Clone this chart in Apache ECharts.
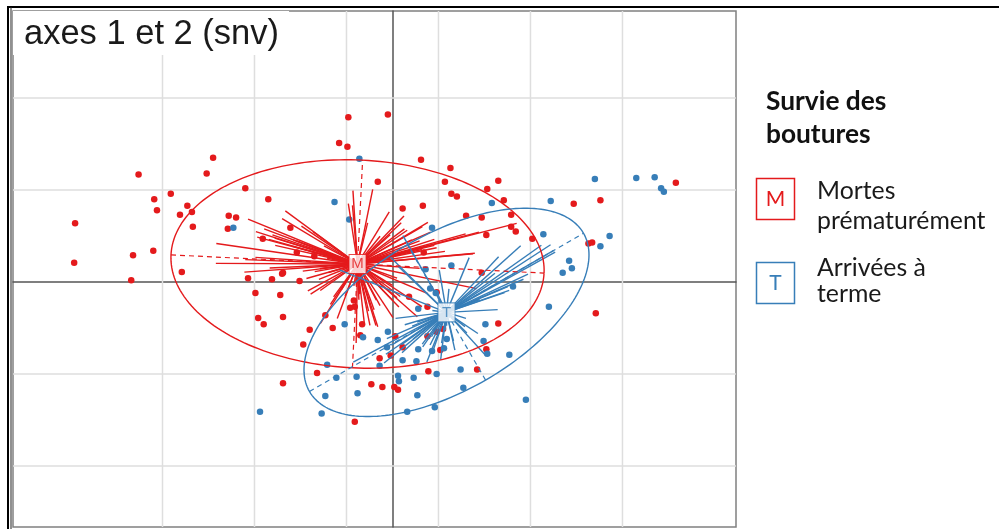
<!DOCTYPE html>
<html><head><meta charset="utf-8">
<script src="https://cdn.jsdelivr.net/npm/echarts@6/dist/echarts.min.js"></script>
<style>html,body{margin:0;padding:0;background:#fff}#c{width:999px;height:529px}</style>
</head><body><div id="c"></div>
<script>
// ---- data (axis 1 = x, axis 2 = y) ----
const classNames = ['Mortes prématurément', 'Arrivées à terme'];
const classLabels = ['M', 'T'];
const legendTitle = ['Survie des', 'boutures'];
const chartTitle = 'axes 1 et 2 (snv)';

const pointsM = [
 [-3.45,0.64],[-3.46,0.21],[-2.76,1.17],[-2.82,0.29],[-2.84,0.02],[-2.60,0.34],[-2.59,0.90],[-2.56,0.78],
 [-2.41,0.96],[-2.31,0.73],[-2.23,0.83],[-2.18,0.76],[-2.17,0.60],[-2.02,1.18],[-1.95,1.35],[-2.29,0.11],
 [-1.60,1.02],[-1.35,0.90],[-1.78,0.72],[-1.70,0.70],[-1.79,0.58],[-1.41,0.47],[-1.57,0.04],[-1.31,0.03],
 [-1.20,0.09],[-1.49,-0.12],[-1.22,-0.14],[-1.11,0.59],[-0.48,1.79],[-0.05,1.82],[-0.58,1.51],[-0.49,1.47],
 [-0.16,1.09],[0.11,0.80],[0.33,0.83],[0.31,1.33],[0.63,1.24],[0.57,1.09],[0.64,0.96],[0.70,0.93],
 [1.03,1.01],[1.15,1.10],[1.21,0.89],[0.97,0.70],[0.80,0.72],[1.29,0.73],[1.02,0.51],[1.29,0.60],
 [1.34,0.55],[1.52,0.47],[1.97,0.85],[2.26,0.89],[2.13,0.42],[2.17,0.43],[3.08,1.08],[-1.04,0.32],
 [-0.85,0.28],[-1.19,0.10],[-1.01,0.01],[-1.46,-0.39],[-1.40,-0.46],[-1.19,-0.38],[-0.90,-0.52],[-0.65,-0.50],
 [-0.73,-0.36],[-0.97,-0.68],[-0.82,-0.99],[-1.19,-1.10],[-0.41,-1.52],[-0.42,-0.20],[-0.41,-0.27],[-0.46,-0.28],
 [-0.33,-0.46],[-0.35,-0.58],[-0.14,-0.83],[-0.02,-0.80],[-0.23,-1.11],[-0.11,-1.14],[0.02,-1.14],[0.06,-1.17],
 [0.03,-0.59],[0.18,-0.16],[0.34,0.32],[0.97,0.10],[0.38,-0.27],[0.48,-0.11],[0.55,-0.51],[0.48,-0.54],
 [0.38,-0.59],[0.52,-0.74],[0.11,-0.71],[0.39,-0.97],[0.92,-0.95],[1.15,-0.45],[1.02,-0.73],[2.21,-0.34]
];
const pointsT = [
 [-1.73,0.59],[-0.36,1.34],[-0.63,0.87],[-0.47,0.68],[0.43,0.59],[1.08,0.86],[1.72,0.88],[2.20,1.12],
 [2.65,1.13],[2.85,1.14],[2.92,1.02],[2.95,0.98],[1.64,0.52],[2.26,0.39],[2.36,0.50],[1.92,0.23],
 [1.95,0.15],[1.85,0.10],[1.31,-0.05],[0.64,0.18],[0.36,0.14],[1.70,-0.27],[1.01,-0.46],[0.41,-0.07],
 [0.28,-0.29],[0.47,-0.12],[0.99,-0.64],[1.03,-0.78],[1.27,-0.79],[0.74,-0.95],[0.48,-1.00],[0.77,-1.15],
 [0.27,-1.23],[1.45,-1.28],[0.46,-1.36],[0.16,-1.41],[0.23,-1.04],[0.06,-1.02],[0.07,-1.08],[0.11,-0.85],
 [0.26,-0.86],[0.28,-0.73],[0.43,-0.75],[0.56,-0.72],[0.59,-0.62],[-0.05,-0.54],[-0.06,-0.71],[-0.52,-0.46],
 [-0.32,-0.60],[-0.16,-0.63],[-0.14,-0.91],[-0.71,-0.90],[-0.61,-1.04],[-0.39,-1.03],[-0.38,-1.21],[-0.73,-1.24],
 [-1.44,-1.41],[-0.77,-1.43]
];
const centroidM = [-0.38, 0.196];
const centroidT = [0.587, -0.33];
// ellipse: centre x, centre y, semi-axis 1, semi-axis 2, angle (deg)
const ellipseM = [-0.38, 0.196, 2.03, 1.13, -2.8];
const ellipseT = [0.587, -0.33, 1.72, 0.85, 30];
const cstar = 0.5;
const gridX = [-2.5, -1.5, -0.5, 0.5, 1.5, 2.5];
const gridY = [-2, -1, 1, 2];
const xRange = [-4.125, 3.734];
const yRange = [-2.663, 2.946];

// ---- styles ----
const RED = '#E41A1C', BLUE = '#377EB8';

function gridSeries(vals, vertical) {
  return {
    type: 'custom', coordinateSystem: 'cartesian2d', silent: true, z: 1,
    data: vals.map(v => vertical ? [v, 0] : [0, v]),
    encode: { x: 0, y: 1 },
    renderItem(params, api) {
      const v = api.value(vertical ? 0 : 1);
      const a = vertical ? api.coord([v, yRange[0]]) : api.coord([xRange[0], v]);
      const b = vertical ? api.coord([v, yRange[1]]) : api.coord([xRange[1], v]);
      return { type: 'line', shape: { x1: a[0], y1: a[1], x2: b[0], y2: b[1] },
        style: { stroke: '#dedede', lineWidth: 1.5 } };
    }
  };
}
function starSeries(pts, c, color) {
  return {
    type: 'custom', coordinateSystem: 'cartesian2d', silent: true, z: 3,
    data: pts, encode: { x: 0, y: 1 },
    renderItem(params, api) {
      const px = api.value(0), py = api.value(1);
      const a = api.coord(c);
      const b = api.coord([c[0] + cstar * (px - c[0]), c[1] + cstar * (py - c[1])]);
      return { type: 'line', shape: { x1: a[0], y1: a[1], x2: b[0], y2: b[1] },
        style: { stroke: color, lineWidth: 1.4 } };
    }
  };
}
function ellipseSeries(e, color) {
  return {
    type: 'custom', coordinateSystem: 'cartesian2d', silent: true, z: 4,
    data: [e], encode: { x: 0, y: 1 },
    renderItem(params, api) {
      const cx = api.value(0), cy = api.value(1), a = api.value(2), b = api.value(3);
      const th = api.value(4) * Math.PI / 180, ct = Math.cos(th), st = Math.sin(th);
      const pts = [];
      for (let i = 0; i <= 200; i++) {
        const t = i / 200 * 2 * Math.PI;
        pts.push(api.coord([cx + a * Math.cos(t) * ct - b * Math.sin(t) * st,
                            cy + a * Math.cos(t) * st + b * Math.sin(t) * ct]));
      }
      const p1 = api.coord([cx - a * ct, cy - a * st]), p2 = api.coord([cx + a * ct, cy + a * st]);
      const q1 = api.coord([cx + b * st, cy - b * ct]), q2 = api.coord([cx - b * st, cy + b * ct]);
      const dash = { stroke: color, lineWidth: 1.2, lineDash: [5, 4], fill: 'none' };
      return { type: 'group', children: [
        { type: 'polyline', shape: { points: pts }, style: { stroke: color, lineWidth: 1.4, fill: 'none' } },
        { type: 'line', shape: { x1: p1[0], y1: p1[1], x2: p2[0], y2: p2[1] }, style: dash },
        { type: 'line', shape: { x1: q1[0], y1: q1[1], x2: q2[0], y2: q2[1] }, style: dash }
      ] };
    }
  };
}
function labelSeries(c, txt, color) {
  return {
    type: 'scatter', data: [c], symbol: 'rect', symbolSize: [17, 19], z: 10, silent: true,
    itemStyle: { color: '#fff', borderColor: color, borderWidth: 1 },
    label: { show: true, position: 'inside', formatter: txt, color: color,
      fontFamily: 'Liberation Sans', fontSize: 15 }
  };
}

const chart = echarts.init(document.getElementById('c'), null, { renderer: 'canvas' });
const legendFont = 'Lato';
chart.setOption({
  animation: false,
  backgroundColor: '#fff',
  title: {
    text: chartTitle, left: 13, top: 11, padding: [6, 10, 3, 11], backgroundColor: '#fff', z: 20,
    textStyle: { fontFamily: 'Liberation Sans', fontSize: 34.5, fontWeight: 'normal', color: '#1a1a1a', lineHeight: 35 }
  },
  grid: { left: 13, top: 11, width: 723, height: 516, show: true, borderColor: '#808080', borderWidth: 1.5, backgroundColor: '#fff' },
  xAxis: { type: 'value', min: xRange[0], max: xRange[1],
    axisLine: { show: true, onZero: true, lineStyle: { color: '#555', width: 1.5 } },
    axisTick: { show: false }, axisLabel: { show: false }, splitLine: { show: false } },
  yAxis: { type: 'value', min: yRange[0], max: yRange[1],
    axisLine: { show: true, onZero: true, lineStyle: { color: '#555', width: 1.5 } },
    axisTick: { show: false }, axisLabel: { show: false }, splitLine: { show: false } },
  series: [
    gridSeries(gridX, true),
    gridSeries(gridY, false),
    { type: 'scatter', name: classNames[0], data: pointsM, symbolSize: 6.5, z: 2, silent: true, itemStyle: { color: RED, opacity: 1 } },
    { type: 'scatter', name: classNames[1], data: pointsT, symbolSize: 6.5, z: 2, silent: true, itemStyle: { color: BLUE, opacity: 1 } },
    starSeries(pointsM, centroidM, RED),
    ellipseSeries(ellipseM, RED),
    starSeries(pointsT, centroidT, BLUE),
    ellipseSeries(ellipseT, BLUE),
    labelSeries(centroidM, classLabels[0], RED),
    labelSeries(centroidT, classLabels[1], BLUE)
  ],
  graphic: [
    { type: 'rect', silent: true, z: 100, shape: { x: 8, y: 7, width: 1100, height: 600 }, style: { fill: 'none', stroke: '#000', lineWidth: 2 } },
    { type: 'line', silent: true, z: 100, shape: { x1: 11, y1: 7, x2: 11, y2: 529 }, style: { stroke: '#222', lineWidth: 1 } },
    { type: 'text', z: 100, x: 766, y: 102, style: { text: legendTitle[0], font: 'bold 26.3px ' + legendFont, fill: '#111', verticalAlign: 'middle' } },
    { type: 'text', z: 100, x: 766, y: 135, style: { text: legendTitle[1], font: 'bold 26.3px ' + legendFont, fill: '#111', verticalAlign: 'middle' } },
    { type: 'rect', z: 100, shape: { x: 756.5, y: 178.5, width: 38, height: 41 }, style: { fill: '#fff', stroke: RED, lineWidth: 1.5 } },
    { type: 'text', z: 101, x: 775.5, y: 199, style: { text: classLabels[0], font: '21px ' + legendFont, fill: RED, align: 'center', verticalAlign: 'middle' } },
    { type: 'text', z: 100, x: 817, y: 191, style: { text: 'Mortes', font: '24.8px ' + legendFont, fill: '#1a1a1a', verticalAlign: 'middle' } },
    { type: 'text', z: 100, x: 817, y: 221, style: { text: 'prématurément', font: '24.8px ' + legendFont, fill: '#1a1a1a', verticalAlign: 'middle' } },
    { type: 'rect', z: 100, shape: { x: 756.5, y: 262.5, width: 38, height: 41 }, style: { fill: '#fff', stroke: BLUE, lineWidth: 1.5 } },
    { type: 'text', z: 101, x: 775.5, y: 283, style: { text: classLabels[1], font: '21px ' + legendFont, fill: BLUE, align: 'center', verticalAlign: 'middle' } },
    { type: 'text', z: 100, x: 817, y: 268, style: { text: 'Arrivées à', font: '24.8px ' + legendFont, fill: '#1a1a1a', verticalAlign: 'middle' } },
    { type: 'text', z: 100, x: 817, y: 294, style: { text: 'terme', font: '24.8px ' + legendFont, fill: '#1a1a1a', verticalAlign: 'middle' } }
  ]
});
</script>
</body></html>
